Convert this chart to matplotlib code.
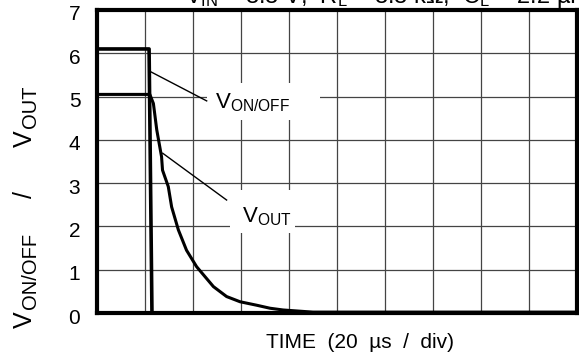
import matplotlib
matplotlib.use('Agg')
import matplotlib.pyplot as plt
import matplotlib.transforms as mtrans
from matplotlib.patches import Rectangle

plt.rcParams['font.family'] = ['Liberation Sans', 'DejaVu Sans']
plt.rcParams['mathtext.default'] = 'regular'

# time in us (20 us / div), voltage in V
t_onoff = [0, 21.7, 22.9, 200]
v_onoff = [6.1, 6.1, 0, 0]

t_out = [0, 22.0, 23.5, 24.9, 26.9, 27.3, 29.7, 31.1, 33.9, 37.3, 41.5,
         48.5, 54.0, 59.6, 66.5, 72.1, 77.5, 90, 200]
v_out = [5.05, 5.05, 4.84, 4.23, 3.61, 3.30, 2.92, 2.45, 1.92, 1.45, 1.07,
         0.61, 0.38, 0.26, 0.18, 0.11, 0.07, 0.02, 0.02]

yticks = [0, 1, 2, 3, 4, 5, 6, 7]
xgrid = list(range(0, 201, 20))

W, H = 579, 361
fig = plt.figure(figsize=(W / 100, H / 100), dpi=100)
ax = fig.add_axes([97/W, 1 - 313/H, 480/W, 303/H])
ax.set_xlim(0, 200)
ax.set_ylim(0, 7)

ax.set_xticks(xgrid)
ax.set_xticklabels([])
ax.set_yticks(yticks)
ax.set_yticklabels([str(y) for y in yticks], fontsize=15)
ax.tick_params(length=0, pad=12)
# tick labels sit a few pixels low
off = mtrans.ScaledTranslation(0, -3/100, fig.dpi_scale_trans)
for lab in ax.get_yticklabels():
    lab.set_transform(lab.get_transform() + off)
ax.grid(True, color='#444444', lw=0.9)
ax.set_axisbelow(True)
for s in ax.spines.values():
    s.set_linewidth(3)

# white boxes behind the labels break the grid lines
ax.add_patch(Rectangle((45.8, 4.46), 47.1, 0.85, fc='white', ec='none', zorder=1.5))
ax.add_patch(Rectangle((55.4, 1.85), 27.1, 0.99, fc='white', ec='none', zorder=1.5))

ax.plot(t_onoff, v_onoff, color='black', lw=2.6, clip_on=False, zorder=3)
ax.plot(t_out, v_out, color='black', lw=2.2, clip_on=False, zorder=3)

# leader lines
ax.plot([22.5, 45.7], [5.57, 4.90], color='black', lw=1.0, zorder=3)
ax.plot([27.4, 54.0], [3.69, 2.61], color='black', lw=1.0, zorder=3)

ax.text(49.2, 4.85, 'V$_{ON/OFF}$', fontsize=16, va='center', ha='left', zorder=4)
ax.text(60.3, 2.22, 'V$_{OUT}$', fontsize=16, va='center', ha='left', zorder=4)

# vertical axis title built from pieces (bottom y in px from top, x of baseline side)
ylab_parts = [('V', 18, 328, 37), ('ON/OFF', 14.5, 309, 40),
              ('/', 18, 198, 37), ('V', 18, 147, 37), ('OUT', 14.5, 128, 40)]
for txt, fs, ybot, xr in ylab_parts:
    fig.text(xr / W, 1 - ybot / H, txt, fontsize=fs, rotation=90,
             ha='right', va='bottom')

fig.text(360/W, 1 - 343/H, 'TIME  (20  µs  /  div)', fontsize=15,
         ha='center', va='center')
fig.text(185/W, 1 - 2.5/H, 'V$_{IN}$ = 3.3 V,  R$_L$ = 3.3 kΩ,  C$_L$ = 2.2 µF',
         fontsize=17, ha='left', va='baseline')

fig.savefig('out.png', dpi=100)
